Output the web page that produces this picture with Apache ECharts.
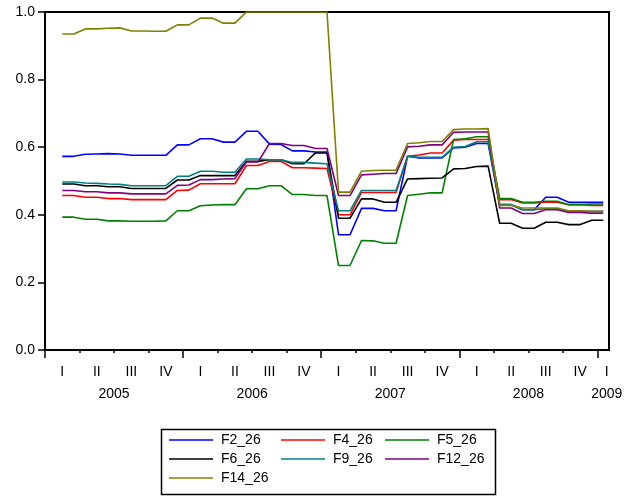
<!DOCTYPE html>
<html>
<head>
<meta charset="utf-8">
<script src="https://cdn.jsdelivr.net/npm/echarts@6/dist/echarts.min.js"></script>
<style>
  html, body { margin: 0; padding: 0; background: #fff; }
  #chart { width: 636px; height: 497px; }
</style>
</head>
<body>
<div id="chart"></div>
<script>
// Monthly observations, Jan 2005 .. Jan 2009 (first month has no value)
const years = ['2005', '2006', '2007', '2008', '2009'];
const quarterLabels = ['I', 'II', 'III', 'IV'];
const months = [];
for (let y = 2005; y <= 2009; y++) {
  for (let m = 1; m <= 12; m++) {
    if (y === 2009 && m > 1) break;
    months.push(y + 'M' + String(m).padStart(2, '0'));
  }
}

const F2_26 = [null,
  0.573,0.573,0.579,0.580,0.581,0.580,0.576,0.576,0.576,0.576,0.607,
  0.607,0.625,0.625,0.615,0.615,0.647,0.647,0.609,0.608,0.589,0.589,0.586,
  0.586,0.341,0.341,0.419,0.419,0.412,0.412,0.573,0.568,0.568,0.568,0.598,
  0.600,0.611,0.611,0.430,0.430,0.415,0.415,0.452,0.452,0.437,0.437,0.437,
  0.437];
const F4_26 = [null,
  0.457,0.457,0.452,0.452,0.448,0.448,0.445,0.445,0.445,0.445,0.472,
  0.473,0.492,0.492,0.492,0.492,0.546,0.546,0.558,0.558,0.539,0.539,0.538,
  0.537,0.400,0.400,0.466,0.466,0.466,0.466,0.573,0.577,0.583,0.583,0.621,
  0.623,0.623,0.623,0.445,0.445,0.435,0.435,0.437,0.437,0.430,0.430,0.428,
  0.428];
const F5_26 = [null,
  0.393,0.393,0.387,0.387,0.382,0.382,0.381,0.381,0.381,0.382,0.412,
  0.412,0.427,0.429,0.430,0.430,0.477,0.477,0.486,0.486,0.460,0.460,0.457,
  0.457,0.250,0.250,0.324,0.323,0.316,0.316,0.457,0.461,0.465,0.465,0.623,
  0.625,0.631,0.631,0.448,0.448,0.437,0.437,0.440,0.440,0.430,0.430,0.432,
  0.432];
const F6_26 = [null,
  0.491,0.491,0.486,0.486,0.483,0.483,0.478,0.478,0.478,0.478,0.503,
  0.503,0.516,0.516,0.516,0.516,0.558,0.558,0.563,0.563,0.551,0.551,0.583,
  0.583,0.390,0.390,0.447,0.447,0.437,0.437,0.506,0.507,0.508,0.509,0.536,
  0.537,0.543,0.544,0.375,0.375,0.360,0.360,0.378,0.378,0.371,0.371,0.384,
  0.384];
const F9_26 = [null,
  0.497,0.497,0.494,0.493,0.491,0.490,0.486,0.486,0.486,0.486,0.514,
  0.514,0.529,0.529,0.526,0.526,0.565,0.565,0.563,0.563,0.555,0.555,0.553,
  0.551,0.412,0.412,0.472,0.472,0.472,0.472,0.573,0.570,0.570,0.570,0.600,
  0.602,0.616,0.616,0.430,0.430,0.415,0.415,0.418,0.418,0.410,0.410,0.410,
  0.410];
const F12_26 = [null,
  0.472,0.472,0.468,0.468,0.465,0.465,0.462,0.462,0.462,0.462,0.487,
  0.488,0.504,0.504,0.506,0.507,0.556,0.556,0.611,0.611,0.605,0.605,0.596,
  0.596,0.457,0.457,0.518,0.520,0.522,0.522,0.601,0.603,0.607,0.607,0.644,
  0.645,0.645,0.645,0.420,0.420,0.404,0.404,0.415,0.415,0.407,0.407,0.405,
  0.405];
const F14_26 = [null,
  0.935,0.935,0.950,0.950,0.952,0.953,0.944,0.944,0.943,0.943,0.962,
  0.962,0.982,0.982,0.967,0.967,1.000,1.000,1.000,1.000,1.000,1.000,1.000,
  1.000,0.467,0.467,0.529,0.531,0.532,0.532,0.611,0.613,0.617,0.617,0.652,
  0.654,0.654,0.655,0.428,0.428,0.420,0.420,0.420,0.420,0.412,0.412,0.410,
  0.410];

const seriesDefs = [
  { name: 'F2_26',  data: F2_26,  color: '#0000ff' },
  { name: 'F4_26',  data: F4_26,  color: '#ff0000' },
  { name: 'F5_26',  data: F5_26,  color: '#008000' },
  { name: 'F6_26',  data: F6_26,  color: '#000000' },
  { name: 'F9_26',  data: F9_26,  color: '#008080' },
  { name: 'F12_26', data: F12_26, color: '#800080' },
  { name: 'F14_26', data: F14_26, color: '#808000' }
];

const FONT = '"Liberation Sans", Arial, sans-serif';
const nMonths = months.length;

// Quarter boundaries (ticks) and quarter midpoints (labels), in month units
const quarterTicks = [];
for (let m = 0; m <= nMonths - 1; m += 3) quarterTicks.push(m);
const quarterLabelPos = [];
for (let m = 1.5; m < nMonths - 1; m += 3) quarterLabelPos.push(m);
quarterLabelPos.push(nMonths - 0.2);
const yearTicks = [];
for (let m = 0; m < nMonths; m += 12) yearTicks.push(m);
const yearLabelPos = [];
for (let m = 6; m < nMonths - 1; m += 12) yearLabelPos.push(m);
yearLabelPos.push(nMonths - 0.2);

const chart = echarts.init(document.getElementById('chart'), null, { renderer: 'canvas' });

const legendCommon = {
  orient: 'vertical',
  itemWidth: 44,
  itemHeight: 14,
  itemGap: 5,
  padding: 0,
  icon: 'path://M0,0 L44,0 L44,1.6 L0,1.6 Z',
  textStyle: { fontFamily: FONT, fontSize: 14, color: '#000', padding: [0, 0, 0, 3] }
};

chart.setOption({
  animation: false,
  backgroundColor: '#fff',
  grid: {
    left: 45, top: 12, width: 564, height: 338,
    show: true, borderColor: '#000', borderWidth: 2, backgroundColor: 'transparent'
  },
  xAxis: [
    { type: 'category', data: months, boundaryGap: true, show: false },
    {
      type: 'value', min: 0, max: nMonths, position: 'bottom',
      axisLine: { show: false }, splitLine: { show: false },
      axisTick: { show: true, length: 3, customValues: quarterTicks, lineStyle: { color: '#000', width: 1.5 } },
      axisLabel: {
        customValues: quarterLabelPos, margin: 15,
        fontFamily: FONT, fontSize: 14, color: '#000',
        formatter: v => quarterLabels[Math.floor(v / 3) % 4]
      }
    },
    {
      type: 'value', min: 0, max: nMonths, position: 'bottom',
      axisLine: { show: false }, splitLine: { show: false },
      axisTick: { show: true, length: 8, customValues: yearTicks, lineStyle: { color: '#000', width: 1.5 } },
      axisLabel: {
        customValues: yearLabelPos, margin: 37,
        fontFamily: FONT, fontSize: 14, color: '#000',
        formatter: v => years[Math.floor(v / 12)]
      }
    }
  ],
  yAxis: {
    type: 'value', min: 0, max: 1, interval: 0.2,
    axisLine: { show: false }, splitLine: { show: false },
    axisTick: { show: true, length: 7, lineStyle: { color: '#000', width: 1.5 } },
    axisLabel: {
      margin: 10, fontFamily: FONT, fontSize: 14, color: '#000',
      formatter: v => v.toFixed(1)
    }
  },
  legend: [
    Object.assign({ left: 169, top: 433, data: ['F2_26', 'F6_26', 'F14_26'] }, legendCommon),
    Object.assign({ left: 281, top: 433, data: ['F4_26', 'F9_26'] }, legendCommon),
    Object.assign({ left: 385, top: 433, data: ['F5_26', 'F12_26'] }, legendCommon)
  ],
  graphic: [{
    type: 'rect', left: 159, top: 427,
    shape: { width: 334, height: 65 },
    style: { fill: 'none', stroke: '#000', lineWidth: 1.5 }
  }],
  series: seriesDefs.map(s => ({
    name: s.name,
    type: 'line',
    xAxisIndex: 0,
    data: s.data,
    showSymbol: false,
    symbol: 'none',
    clip: true,
    color: s.color,
    lineStyle: { color: s.color, width: 1.6 }
  }))
});
</script>
</body>
</html>
